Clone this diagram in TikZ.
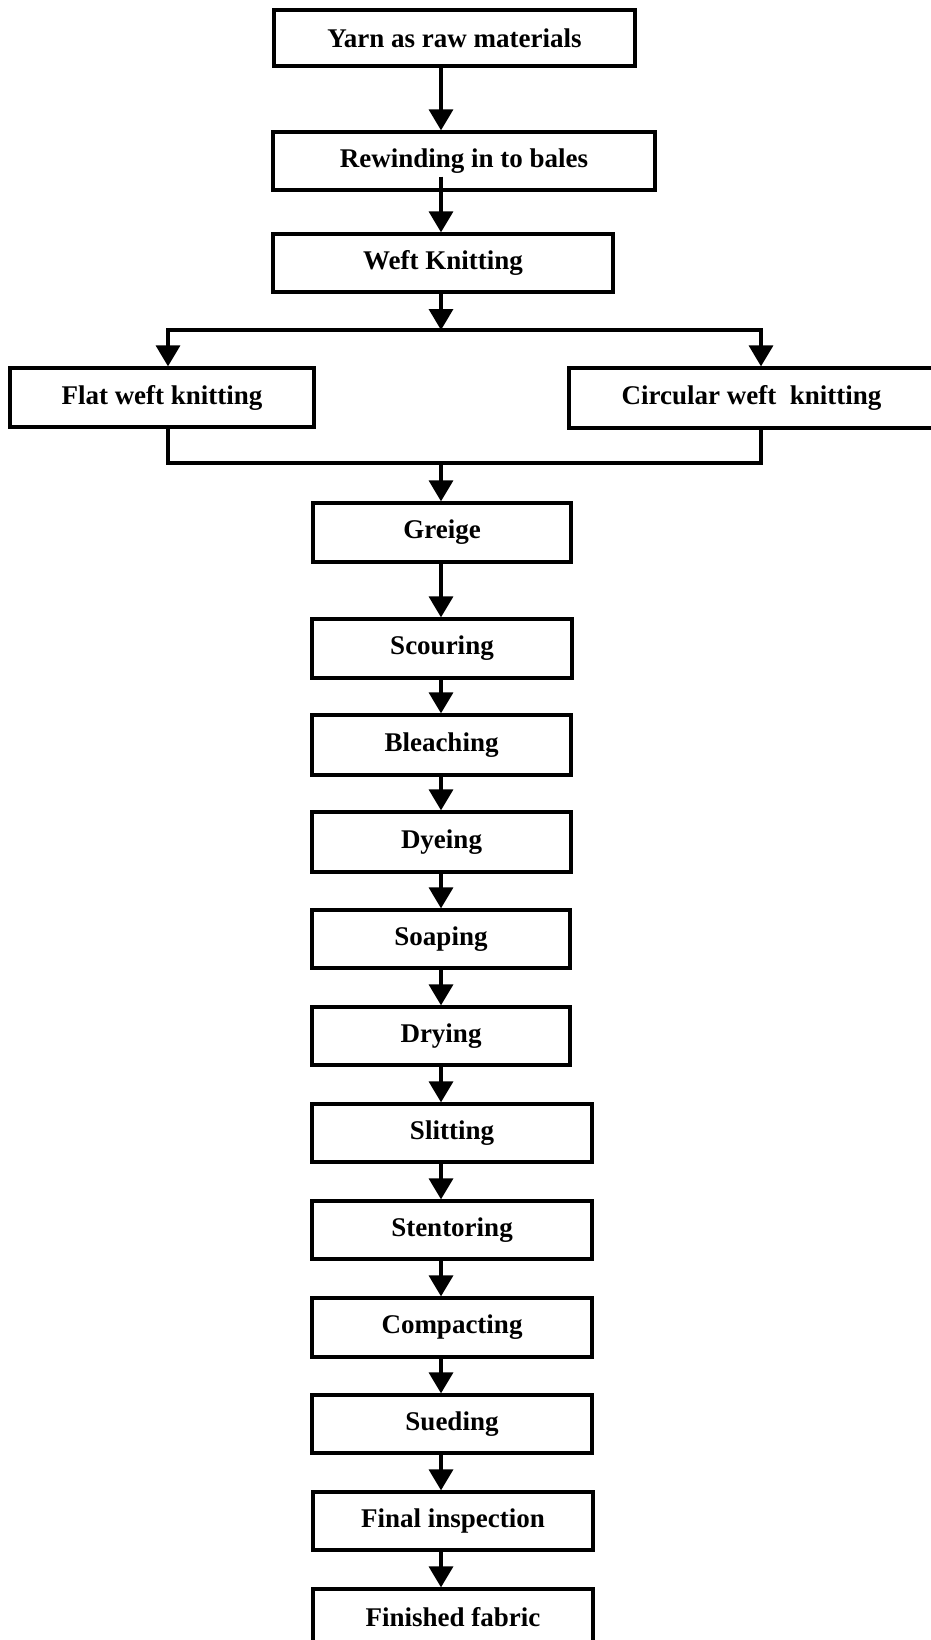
\documentclass[tikz,border=0pt]{standalone}
\usepackage{fontspec}
\setmainfont{Liberation Serif}
\usetikzlibrary{arrows.meta}
\begin{document}
\begin{tikzpicture}[x=1pt,y=-1pt,
  box/.style={draw, line width=3.3pt, inner sep=0pt, align=center,
    font=\fontsize{27}{30}\selectfont\bfseries},
  conn/.style={line width=3.5pt},
  arr/.style={conn, -{Triangle[width=24pt,length=21pt]}}]
\useasboundingbox (0,0) rectangle (930,1640);
% boxes
\node[box, minimum width=361pt, minimum height=56pt] (yarn)   at (454.5,38)   {Yarn as raw materials};
\node[box, minimum width=382pt, minimum height=58pt] (rew)    at (464,161)    {Rewinding in to bales};
\node[box, minimum width=340pt, minimum height=58pt] (weft)   at (443,263)    {Weft Knitting};
\node[box, minimum width=304pt, minimum height=59pt] (flat)   at (162,397.5)  {Flat weft knitting};
\node[box, minimum width=365pt, minimum height=60pt] (circ)   at (751.5,398)  {Circular weft\ \ knitting};
\node[box, minimum width=258pt, minimum height=59pt] (greige) at (442,532.5)  {Greige};
\node[box, minimum width=260pt, minimum height=59pt] (scour)  at (442,648.5)  {Scouring};
\node[box, minimum width=259pt, minimum height=60pt] (bleach) at (441.5,745)  {Bleaching};
\node[box, minimum width=259pt, minimum height=60pt] (dye)    at (441.5,842)  {Dyeing};
\node[box, minimum width=258pt, minimum height=58pt] (soap)   at (441,939)    {Soaping};
\node[box, minimum width=258pt, minimum height=58pt] (dry)    at (441,1036)   {Drying};
\node[box, minimum width=280pt, minimum height=58pt] (slit)   at (452,1133)   {Slitting};
\node[box, minimum width=280pt, minimum height=58pt] (stent)  at (452,1230)   {Stentoring};
\node[box, minimum width=280pt, minimum height=59pt] (comp)   at (452,1327.5) {Compacting};
\node[box, minimum width=280pt, minimum height=58pt] (sued)   at (452,1424)   {Sueding};
\node[box, minimum width=280pt, minimum height=58pt] (final)  at (453,1521)   {Final inspection};
\node[box, minimum width=280pt, minimum height=56pt] (fin)    at (453,1617)   {Finished fabric};
% helper coordinates
\coordinate (sp) at (441,0);
\coordinate (lx) at (168,0);
\coordinate (rx) at (761,0);
\coordinate (jt) at (441,330);
\coordinate (jb) at (441,463);
\path (rew.south -| sp) ++(0,-15) coordinate (rs);
% connectors
\draw[arr] (yarn.south -| sp) -- (rew.north -| sp);
\draw[arr] (rs) -- (weft.north -| sp);
\draw[arr] (weft.south -| sp) -- (jt);
\draw[arr] (jt) -| (flat.north -| lx);
\draw[arr] (jt) -| (circ.north -| rx);
\draw[conn] (flat.south -| lx) |- (jb) -| (circ.south -| rx);
\draw[arr] (jb) -- (greige.north -| sp);
\foreach \a/\b in {greige/scour, scour/bleach, bleach/dye, dye/soap, soap/dry,
  dry/slit, slit/stent, stent/comp, comp/sued, sued/final, final/fin}
  \draw[arr] (\a.south -| sp) -- (\b.north -| sp);
\end{tikzpicture}
\end{document}
